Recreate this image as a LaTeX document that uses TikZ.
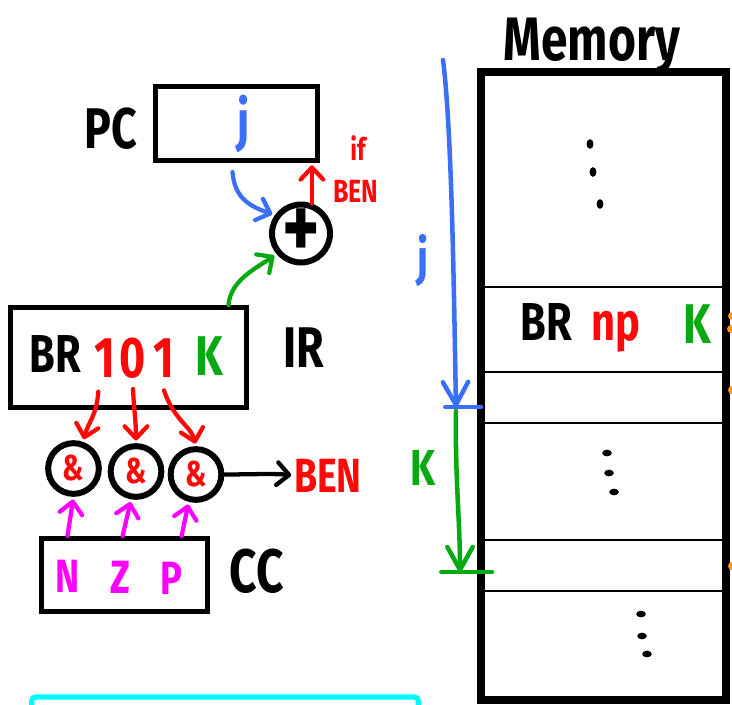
\documentclass[tikz,border=0pt]{standalone}
\usepackage{fontspec}
\setmainfont{Fira Sans}[FakeStretch=0.78]
\usepackage{tikz}
\usetikzlibrary{arrows.meta}
\usetikzlibrary{positioning}
\definecolor{penblue}{RGB}{59,112,246}
\definecolor{penred}{RGB}{255,8,8}
\definecolor{pengreen}{RGB}{8,170,20}
\definecolor{penpink}{RGB}{255,0,255}
\definecolor{pencyan}{RGB}{0,250,250}
\definecolor{penorange}{RGB}{255,150,20}
\tikzset{
reg/.style={
	rectangle,
	draw=black,
	line width=3.75pt,
	fill=white,
	inner sep=0pt
},
gate/.style={
	circle,
	minimum size=38pt,
	draw=black,
	line width=4.5pt,
	fill=white,
	text=penred,
	font=\bfseries\fontsize{27}{27}\selectfont,
	inner sep=0pt
},
hand/.style={
	font=\bfseries\fontsize{#1}{#1}\selectfont,
	inner sep=0pt,
	anchor=base
},
arrow/.style={
	-{Straight Barb[length=9pt,width=17pt,round]},
	line width=3.2pt,
	line cap=round,
	line join=round,
	shorten >=2pt
},
pointer/.style={
	-{Straight Barb[length=17pt,width=19pt,round]},
	line width=3.4pt,
	line cap=round,
	line join=round
},
bar/.style={
	line width=3.4pt,
	line cap=round
},
cell/.style={
	line width=1.8pt,
	draw=black
}
}

\begin{document}
\begin{tikzpicture}[x=0.75pt, y=-0.75pt]
\useasboundingbox (0,0) rectangle (732,704);

% PC and the adder
\node (pc) [reg, minimum width=122pt, minimum height=55pt] at (236.5,123.5) {};
\node (pcname) [hand=43] at (111,148) {PC};
\node (pcval) [hand=42, text=penblue] at (244,140) {j};
\node (add) [gate, minimum size=43.5pt, inner sep=-12pt, text=black, font=\bfseries\fontsize{68}{68}\selectfont] at (301,233.5) {+};
\node (condif) [hand=23, text=penred] at (358,160) {if};
\node (condben) [hand=24, text=penred] at (356,202) {BEN};

% IR
\node (ir) [reg, minimum width=177pt, minimum height=75pt] at (128,357.5) {};
\node (irop)  [hand=40] at (55,372) {BR};
\node (irn)   [hand=43, text=penred] at (105,377) {1};
\node (irz)   [hand=43, text=penred] at (133,377) {0};
\node (irp)   [hand=43, text=penred] at (164,377) {1};
\node (iroff) [hand=42, text=pengreen] at (209,375) {K};
\node (irname) [hand=43] at (304,367) {IR};

% and gates
\node (andn) [gate] at (73.5,468.5) {\&};
\node (andz) [gate] at (136,471.5) {\&};
\node (andp) [gate] at (196,474.5) {\&};
\node (ben) [hand=36, text=penred] at (328,492) {BEN};

% CC
\node (cc) [reg, minimum width=124pt, minimum height=55pt] at (124.5,575) {};
\node (ccn) [hand=35, text=penpink] at (67.5,592) {N};
\node (ccz) [hand=35, text=penpink] at (120,593) {Z};
\node (ccp) [hand=35, text=penpink] at (171,594) {P};
\node (ccname) [hand=46] at (257,592) {CC};

\draw [arrow, penblue] ([shift={(-3pt,-7pt)}]pc.south) .. controls +(2,28) and +(-22,-8) .. (add.145);
\draw [arrow, penred] (add.70) -- (add.70 |- pc.south);
\draw [arrow, pengreen] ([xshift=-15pt]ir.north east) .. controls +(2,-25) and +(-20,14) .. (add.220);

\draw [arrow, penred] ([shift={(-5pt,-11pt)}]irn.base) .. controls +(-2,25) and +(5,-20) .. (andn.70);
\draw [arrow, penred] ([yshift=-9pt]irz.base) .. controls +(1,20) and +(0,-20) .. (andz.north);
\draw [arrow, penred] ([yshift=-10pt]irp.base) .. controls +(10,30) and +(-5,-20) .. (andp.north);

\draw [arrow, penpink] (ccn |- cc.north) -- (andn.south);
\draw [arrow, penpink] ([xshift=2pt]ccz |- cc.north) -- (andz.260);
\draw [arrow, penpink] ([xshift=8pt]ccp |- cc.north) -- (andp.255);
\draw [arrow] (andp.east) .. controls +(20,0) and +(-20,-2) .. (ben.west);

% memory
\node (memname) [hand=46] at (592,60) {Memory};
\node (mem) [rectangle, draw=black, line width=6pt, minimum width=183.75pt, minimum height=471pt] at (603.5,386) {};
\foreach \y in {287,372,423,540,591}
	\draw [cell] (mem.west |- 0,\y) -- (mem.east |- 0,\y);
\foreach \p in {(590,144),(593,172),(600,204)}
	\fill \p ellipse [x radius=2.6pt, y radius=3.6pt];
\foreach \p in {(607,453),(609,473),(614,492),(641,614),(642,636),(647,654)}
	\fill \p ellipse [x radius=3.6pt, y radius=2.5pt];
\node (memop)  [hand=40] at (546,340) {BR};
\node (memnp)  [hand=40, text=penred] at (616,340) {np};
\node (memoff) [hand=42, text=pengreen] at (697,343) {K};

% offsets j and K
\coordinate (jtop) at (443,60);
\coordinate (jtip) at (456,407);
\coordinate (ktip) at (460,572);
\draw [pointer, penblue] (jtop) .. controls (452,130) and (454,300) .. (jtip);
\draw [bar, penblue] ([xshift=-8pt]jtip) -- ([xshift=3pt]mem.west |- jtip);
\node (jname) [hand=38, text=penblue] at (423,275) {j};
\draw [pointer, pengreen] ([yshift=-3pt]jtip) .. controls (455,480) and (460,520) .. (ktip);
\draw [bar, pengreen] ([xshift=-14pt]ktip) -- ([xshift=24pt]ktip);
\node (kname) [hand=38, text=pengreen] at (423,485) {K};

\foreach \p in {(732,316),(731,329),(732,390),(732,566)}
	\fill [penorange] \p circle (3pt);
\node (nextbox) [rectangle, draw=pencyan, line width=4pt, rounded corners=3pt, minimum width=290pt, minimum height=60pt] at (225,737) {};

\end{tikzpicture}
\end{document}
